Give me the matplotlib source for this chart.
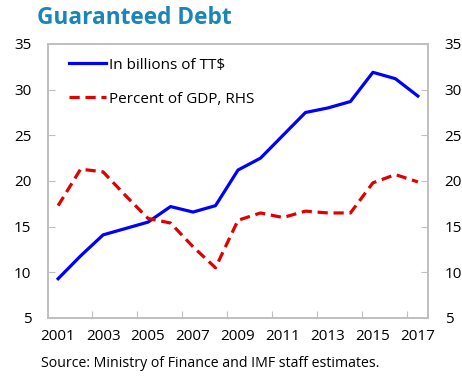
import matplotlib
matplotlib.use('Agg')
import matplotlib.pyplot as plt
import numpy as np

plt.rcParams['font.family'] = ['Open Sans', 'DejaVu Sans']

years = list(range(2001, 2018))
debt_bn = [9.3, 11.8, 14.1, 14.8, 15.5, 17.2, 16.6, 17.3, 21.2, 22.5,
           25.0, 27.5, 28.0, 28.7, 31.9, 31.2, 29.3]
debt_gdp = [17.3, 21.3, 21.0, 18.4, 15.9, 15.4, 12.8, 10.5, 15.7, 16.5,
            16.0, 16.7, 16.5, 16.5, 19.8, 20.7, 19.9]
tick_years = [str(y) for y in years[::2]]

fig = plt.figure(figsize=(4.62, 3.77), dpi=100)
ax = fig.add_axes([0.1039, 0.1565, 0.8225, 0.7268])
ax2 = ax.twinx()

x = np.arange(len(years))
l1, = ax.plot(x, debt_bn, color='#0000ff', lw=2.3, label='In billions of TT$')
l2, = ax2.plot(x, debt_gdp, color='#e00000', lw=2.3, ls=(0, (3.2, 1.8)),
               label='Percent of GDP, RHS')

for a in (ax, ax2):
    a.set_ylim(5, 35)
    a.set_yticks(range(5, 40, 5))
    a.set_xlim(-0.45, len(years) - 0.55)
    for s in a.spines.values():
        s.set_color('#bfbfbf')
        s.set_linewidth(1.2)
    a.tick_params(axis='y', direction='in', length=5, color='#bfbfbf',
                  labelsize=11, pad=12)

# category axis: ticks between pairs of years, labels on odd years
ax.set_xticks(np.arange(1.5, len(years) - 1, 2))
ax.set_xticklabels([])
ax.set_xticks(x[::2], minor=True)
ax.set_xticklabels(tick_years, minor=True)
ax.tick_params(axis='x', which='major', direction='in', length=5, color='#bfbfbf')
ax.tick_params(axis='x', which='minor', length=0, labelsize=11, pad=8)

ax.legend(handles=[l1, l2], loc='upper left', frameon=False, fontsize=11,
          handlelength=2.4, handletextpad=0.2, labelspacing=1.25,
          bbox_to_anchor=(0.02, 1.0))

fig.text(0.08, 0.952, 'Guaranteed Debt', fontsize=16.3, fontweight='bold',
         color='#1a86b8', va='center', ha='left')
fig.text(0.089, 0.016, 'Source: Ministry of Finance and IMF staff estimates.',
         fontsize=10.2, va='bottom', ha='left')

fig.savefig('out.png', dpi=100)
